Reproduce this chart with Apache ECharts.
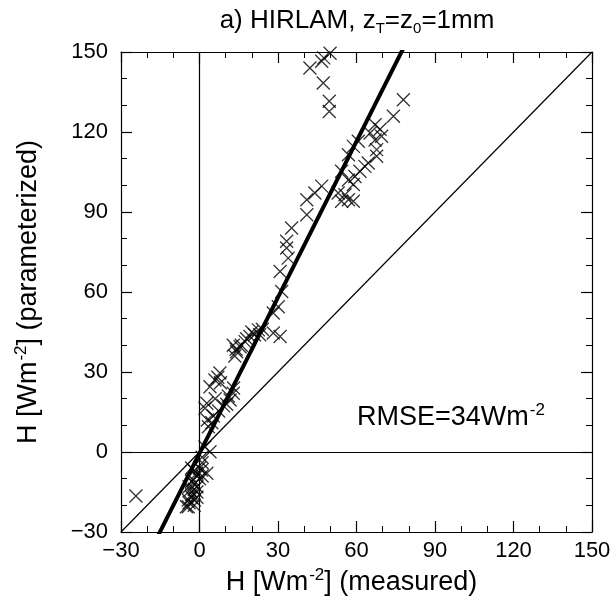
<!DOCTYPE html>
<html>
<head>
<meta charset="utf-8">
<script src="https://cdn.jsdelivr.net/npm/echarts@6/dist/echarts.min.js"></script>
<style>
  html, body { margin: 0; padding: 0; background: #fff; }
  #chart { width: 614px; height: 604px; }
</style>
</head>
<body>
<div id="chart"></div>
<script>
// Sensible heat flux: measured (x) vs parameterized (y), W m^-2
const measured = [
  49.9, 46.7, 47.5, 42.2, 47.3, 49.6, 49.6,
  77.9, 74.1, 67.1, 69.0, 65.2, 69.6, 67.1, 60.7, 67.7, 58.8, 67.7, 56.9, 64.5,
  63.2, 61.3, 54.3, 59.4, 56.9, 58.8, 53.0, 55.6, 56.9, 58.8, 54.3,
  46.7, 44.1, 41.0, 41.0, 35.2, 33.3, 33.3, 33.9, 30.8, 31.4, 30.1, 28.2,
  30.8, 28.2, 22.5, 19.3, 17.4, 15.5, 14.2, 12.9, 24.0, 21.0, 16.0, 18.0, 20.0, 23.0, 14.0, 13.5,
  5.9, 4.0, 2.8, 2.1, 12.9, 11.7, 10.4, 9.2, 7.3, 5.3, 4.7, 3.4, 7.0, 8.0, 6.0, 13.0, 11.0, 3.0, 7.8,
  2.1, 4.0, 1.0, 0.8, -2.4, -3.6, -4.3, -4.3, 2.8, -1.0, -2.0, -1.0, -3.0, -2.0, 0.0, -1.0, -5.0, 1.0,
  -3.0, -2.0, -1.0, -3.0, -4.0, -2.0, -3.0, -1.0, -4.0, -2.0, 0.0, 1.0,
  -24.3
];
const parameterized = [
  149.5, 146.5, 147.8, 144.0, 138.4, 131.5, 127.7,
  132.1, 125.9, 122.7, 121.0, 119.6, 118.4, 117.0, 116.5, 113.4, 114.6, 110.9, 111.5, 108.4,
  107.1, 105.3, 105.3, 103.3, 102.0, 100.3, 97.1, 96.5, 94.6, 94.0, 94.0,
  99.7, 97.1, 94.6, 89.0, 84.0, 79.0, 76.5, 72.7, 67.7, 60.2, 54.5, 52.1,
  43.3, 44.6, 45.8, 43.3, 41.4, 39.5, 37.6, 40.0, 46.0, 44.0, 40.0, 42.5, 45.0, 44.0, 38.5, 36.0,
  27.0, 24.5, 18.3, 16.4, 22.0, 19.5, 17.9, 17.3, 15.4, 13.5, 11.0, 9.5, 28.0, 26.0, 20.0, 24.0, 21.0, 12.0, 29.6,
  1.9, 0.1, -2.0, -6.8, -10.5, -14.3, -18.0, -20.5, -8.0, -8.0, -12.0, -15.0, -16.0, -18.0, -10.0, -13.0, -20.5, -4.0,
  -6.0, -7.0, -9.0, -11.0, -13.0, -14.0, -17.0, -17.0, -19.0, -20.0, -6.0, -9.0,
  -16.5
];

// Axis range and tick step (both axes)
const axisMin = -30;
const axisMax = 150;
const axisStep = 30;

// Least-squares fit shown as the thick line
const fitSlope = 1.95;
const fitIntercept = -0.5;
const rmseValue = 34;

const points = measured.map((x, i) => [x, parameterized[i]]);
const fitLine = [axisMin, axisMax].map(x => [x, fitSlope * x + fitIntercept]);
const identityLine = [[axisMin, axisMin], [axisMax, axisMax]];

const FONT = 'Liberation Sans, Arial, Helvetica, sans-serif';
const ink = '#000';
const minusSign = v => String(v).replace('-', '\u2212');

function valueAxis(extra) {
  return Object.assign({
    type: 'value',
    min: axisMin,
    max: axisMax,
    interval: axisStep,
    axisLine: { show: true, onZero: false, lineStyle: { color: ink, width: 1.2 } },
    axisTick: { show: true, inside: true, length: 11, lineStyle: { color: ink, width: 1.2 } },
    minorTick: { show: true, splitNumber: 3, length: 6, lineStyle: { color: ink, width: 1 } },
    splitLine: { show: false },
    axisLabel: { show: false }
  }, extra);
}

const labelStyle = { color: ink, fontFamily: FONT, fontSize: 22, formatter: minusSign };
function supRich(size) {
  return {
    n: { color: ink, fontFamily: FONT, fontSize: size, fontWeight: 'normal' },
    sup: { color: ink, fontFamily: FONT, fontSize: Math.round(size * 0.62), fontWeight: 'normal',
           verticalAlign: 'top', padding: [0, 0, Math.round(size * 0.5), 1] }
  };
}

const chart = echarts.init(document.getElementById('chart'), null, { renderer: 'canvas' });

chart.setOption({
  backgroundColor: '#fff',
  animation: false,
  title: {
    text: '{n|a) HIRLAM, z}{sub|T}{n|=z}{sub|0}{n|=1mm}',
    left: 352,
    top: 1,
    textAlign: 'center',
    textStyle: {
      fontWeight: 'normal',
      rich: {
        n: { color: ink, fontFamily: FONT, fontSize: 26, fontWeight: 'normal' },
        sub: { color: ink, fontFamily: FONT, fontSize: 15, fontWeight: 'normal', padding: [15, 0, 0, 0] }
      }
    }
  },
  grid: { left: 121, right: 22, top: 52, bottom: 72, containLabel: false },
  xAxis: [
    valueAxis({
      position: 'bottom',
      axisLabel: Object.assign({ show: true, margin: 8 }, labelStyle),
      name: '{n|H [Wm}{sup|-2}{n|] (measured)}',
      nameLocation: 'middle',
      nameGap: 34,
      nameTextStyle: { rich: supRich(27), padding: [0, 10, 0, 0] }
    }),
    valueAxis({ position: 'top' })
  ],
  yAxis: [
    valueAxis({
      position: 'left',
      axisLabel: Object.assign({ show: true, margin: 13 }, labelStyle),
      name: '{n|H [Wm}{sup|-2}{n|] (parameterized)}',
      nameLocation: 'middle',
      nameGap: 77,
      nameRotate: 90,
      nameTextStyle: { rich: supRich(27) }
    }),
    valueAxis({ position: 'right' })
  ],
  graphic: [{
    type: 'text',
    left: 357,
    top: 402,
    style: {
      text: '{n|RMSE=' + rmseValue + 'Wm}{sup|-2}',
      rich: supRich(27)
    }
  }],
  series: [
    {
      name: 'zero lines',
      type: 'line',
      data: [],
      markLine: {
        silent: true,
        symbol: ['none', 'none'],
        label: { show: false },
        lineStyle: { color: ink, width: 1.2, type: 'solid' },
        data: [{ xAxis: 0 }, { yAxis: 0 }]
      }
    },
    {
      name: '1:1',
      type: 'line',
      data: identityLine,
      showSymbol: false,
      symbol: 'none',
      lineStyle: { color: ink, width: 1.2 },
      clip: true,
      z: 3
    },
    {
      name: 'fit',
      type: 'line',
      data: fitLine,
      showSymbol: false,
      symbol: 'none',
      lineStyle: { color: ink, width: 4 },
      clip: true,
      z: 4
    },
    {
      name: 'H',
      type: 'scatter',
      data: points,
      symbol: 'path://M0,0L10,10M10,0L0,10',
      symbolSize: 13,
      clip: false,
      itemStyle: { color: 'rgba(0,0,0,0)', borderColor: ink, borderWidth: 1.3 },
      z: 5
    }
  ]
});
</script>
</body>
</html>
